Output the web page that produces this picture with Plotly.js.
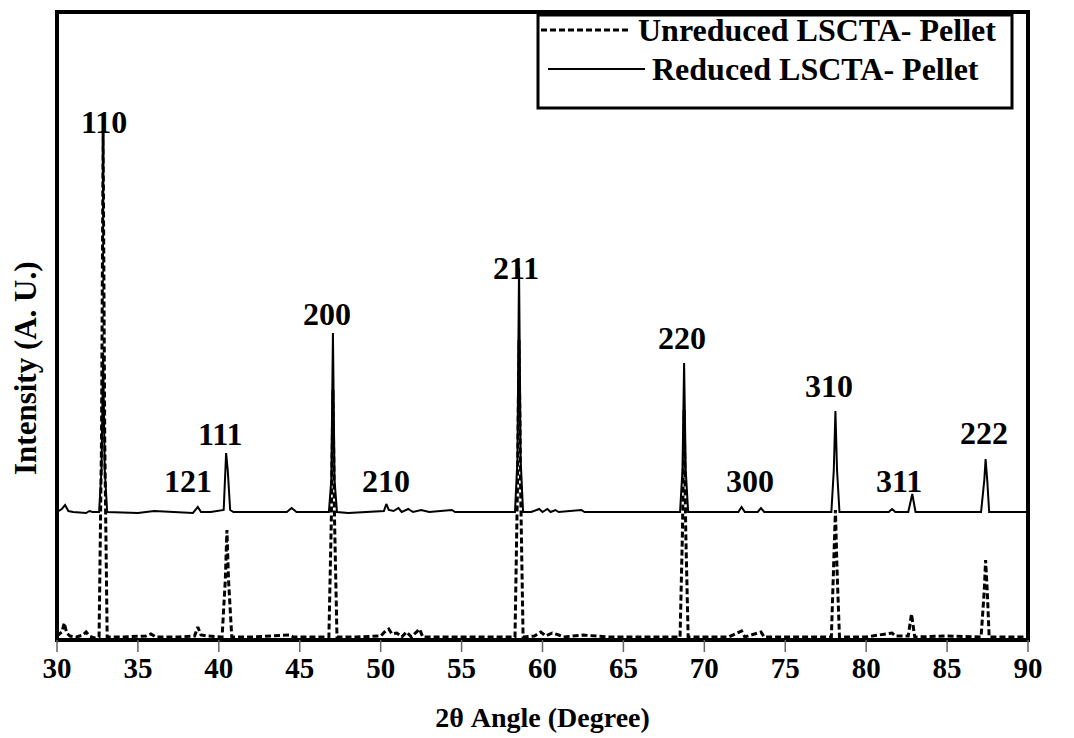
<!DOCTYPE html>
<html>
<head>
<meta charset="utf-8">
<script src="https://cdn.plot.ly/plotly-3.0.1.min.js"></script>
<style>html,body{margin:0;padding:0;background:#fff;}#chart{width:1074px;height:738px;}</style>
</head>
<body>
<div id="chart"></div>
<script>
// Unreduced LSCTA pellet (dashed) - 2theta and intensity (arbitrary units)
var unreducedX = [30.0,30.3,30.45,30.6,30.8,31.2,31.6,31.8,32.0,32.3,32.6,32.75,32.85,32.95,33.1,34.0,35.5,35.8,36.1,37.5,38.5,38.7,38.9,39.3,40.2,40.4,40.5,40.6,40.8,42.0,44.4,44.6,46.8,46.95,47.05,47.15,47.3,48.5,50.0,50.3,50.5,50.7,51.0,51.3,51.6,51.9,52.4,52.6,55.0,58.3,58.45,58.55,58.65,58.8,59.5,59.9,60.2,60.6,61.0,61.3,62.5,64.0,68.5,68.65,68.75,68.85,69.0,71.5,72.3,72.5,73.5,73.7,77.85,78.0,78.1,78.2,78.35,80.0,81.6,81.8,82.6,82.8,83.0,85.0,87.1,87.3,87.38,87.48,87.6,90.0];
var unreducedY = [4,8,17,7,4,3,5,8,4,2,3,200,508,200,3,3,4,6,3,3,4,13,5,4,3,60,110,60,3,3,5,3,3,120,250,120,3,3,4,9,11,6,7,3,8,3,11,3,3,3,150,300,150,3,4,8,4,7,5,3,5,3,3,110,230,110,3,3,9,3,8,3,3,70,130,70,3,3,7,4,4,26,3,4,3,50,80,50,3,3];

// Reduced LSCTA pellet (solid)
var reducedX = [30.0,30.3,30.5,30.7,31.0,31.8,32.0,32.2,32.6,32.75,32.85,32.95,33.1,35.0,36.0,37.0,38.4,38.7,38.9,39.5,40.3,40.45,40.55,40.7,40.9,44.2,44.5,44.8,46.8,46.95,47.05,47.15,47.3,48.0,49.5,50.2,50.35,50.5,50.8,51.1,51.3,51.7,52.0,52.5,53.0,54.4,54.6,58.3,58.45,58.55,58.65,58.8,59.3,59.8,60.0,60.3,60.5,60.8,61.0,62.4,62.6,68.5,68.65,68.75,68.85,69.0,72.1,72.3,72.5,73.3,73.5,73.7,77.85,78.0,78.1,78.2,78.35,79.5,81.4,81.6,81.8,82.6,82.85,83.05,87.1,87.3,87.38,87.48,87.6,90.0];
var reducedY = [128,131,135,129,128,127,129,128,128,170,287,170,128,127,129,128,127,133,128,128,130,187,170,130,128,128,132,128,128,160,307,160,128,127,128,129,136,130,129,132,128,131,128,130,128,130,128,128,180,372,180,128,128,131,128,131,128,130,128,130,128,128,170,277,170,128,128,133,128,128,132,128,128,170,229,170,128,128,128,131,128,128,146,128,128,160,181,160,128,128];

// Peak (hkl) labels
var peakLabels = ["110","121","111","200","210","211","220","300","310","311","222"];
var peakLabelX = [32.9,38.1,40.1,46.7,50.3,58.35,68.65,72.85,77.7,82.0,87.3];
var peakLabelY = [518,159,206,326,159,372,302,159,254,159,207];

var seriesNames = ["Unreduced LSCTA- Pellet","Reduced LSCTA- Pellet"];
var xTicks = [30,35,40,45,50,55,60,65,70,75,80,85,90];
var xRange = [30, 90];

var serif = "'Liberation Serif','Times New Roman',serif";

var traces = [
  {x: unreducedX, y: unreducedY, mode: 'lines', name: seriesNames[0],
   line: {color: '#000', width: 3, dash: '6px,3px'}, showlegend: false},
  {x: reducedX, y: reducedY, mode: 'lines', name: seriesNames[1],
   line: {color: '#000', width: 2}, showlegend: false}
];

var W = 971, H = 628, L = 57, T = 12;
function px(v){ return (v - L) / W; }
function py(v){ return (T + H - v) / H; }

var annotations = peakLabels.map(function(t, i){
  return {x: peakLabelX[i], y: peakLabelY[i], xref: 'x', yref: 'y', text: '<b>' + t + '</b>',
    showarrow: false, font: {family: serif, size: 32, color: '#000'}, xanchor: 'center', yanchor: 'middle'};
});
annotations.push({x: px(636), y: py(30), xref: 'paper', yref: 'paper', text: '<b>' + seriesNames[0] + '</b>',
  showarrow: false, xanchor: 'left', yanchor: 'middle', font: {family: serif, size: 32, color: '#000'}});
annotations.push({x: px(650), y: py(69), xref: 'paper', yref: 'paper', text: '<b>' + seriesNames[1] + '</b>',
  showarrow: false, xanchor: 'left', yanchor: 'middle', font: {family: serif, size: 32, color: '#000'}});
annotations.push({x: px(25), y: py(368), xref: 'paper', yref: 'paper', text: '<b>Intensity (A. U.)</b>',
  showarrow: false, textangle: -90, xanchor: 'center', yanchor: 'middle', font: {family: serif, size: 31, color: '#000'}});

var shapes = [
  {type: 'rect', xref: 'paper', yref: 'paper', x0: 0, x1: 1, y0: 0, y1: 1, line: {color: '#000', width: 4}},
  {type: 'rect', xref: 'paper', yref: 'paper', x0: px(538), x1: px(1012), y0: py(108), y1: py(15), line: {color: '#000', width: 3}, fillcolor: '#fff'},
  {type: 'line', xref: 'paper', yref: 'paper', x0: px(541), x1: px(630), y0: py(30), y1: py(30), line: {color: '#000', width: 3, dash: '6px,3px'}},
  {type: 'line', xref: 'paper', yref: 'paper', x0: px(548), x1: px(645), y0: py(69), y1: py(69), line: {color: '#000', width: 2}}
];
// longer outside tick marks below the frame (paper coords of each tick value)
xTicks.forEach(function(v){
  var f = (v - xRange[0]) / (xRange[1] - xRange[0]);
  shapes.push({type: 'line', xref: 'paper', yref: 'paper', x0: f, x1: f, y0: 0, y1: py(652), line: {color: '#666', width: 1.5}});
});

var layout = {
  width: 1074, height: 738,
  margin: {l: 57, r: 46, t: 12, b: 98},
  paper_bgcolor: '#fff', plot_bgcolor: '#fff',
  showlegend: false,
  xaxis: {range: xRange, tickvals: xTicks, ticktext: xTicks.map(function(v){return '<b>' + v + '</b>';}),
    ticks: 'outside', ticklen: 2, tickcolor: '#666', tickwidth: 1, showgrid: false, zeroline: false, showline: false,
    tickfont: {family: serif, size: 29, color: '#000'},
    title: {text: '<b>2θ Angle (Degree)</b>', font: {family: serif, size: 28, color: '#000'}, standoff: 24}},
  yaxis: {range: [0, 628], showticklabels: false, ticks: '', showgrid: false, zeroline: false, showline: false},
  annotations: annotations,
  shapes: shapes
};

Plotly.newPlot('chart', traces, layout, {displayModeBar: false, staticPlot: true});
</script>
</body>
</html>
